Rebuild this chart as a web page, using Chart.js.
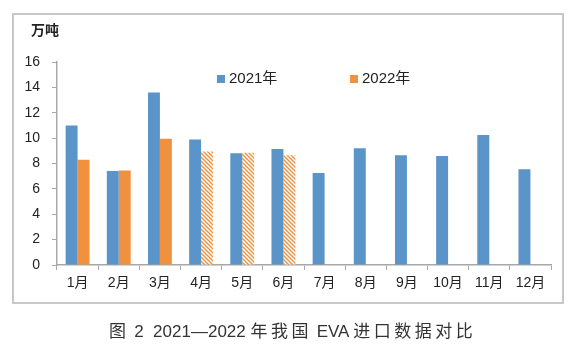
<!DOCTYPE html>
<html><head><meta charset="utf-8">
<script src="https://cdn.jsdelivr.net/npm/chart.js@4"></script>
<style>
html,body{margin:0;padding:0;background:#fff;}
#wrap{position:relative;width:585px;height:357px;font-family:"Liberation Sans","Noto Sans CJK SC",sans-serif;}
#box{position:absolute;left:12px;top:13px;width:548px;height:287px;border:2px solid #c8c8c8;}
canvas{position:absolute;left:0;top:0;}
.t{position:absolute;white-space:nowrap;color:#222;}
.sq{display:inline-block;width:8px;height:8px;margin-right:4px;vertical-align:0px;}
.cap{left:109px;top:319px;font-size:17px;line-height:22px;color:#333;font-family:'Liberation Sans','Noto Sans CJK SC';}
.cap .c{letter-spacing:3.5px;font-family:'Noto Sans CJK SC';}
</style></head>
<body><div id="wrap">
<div id="box"></div>
<canvas id="c" width="585" height="357"></canvas>
<div class="t" style="left:31px;top:19px;font-size:14px;font-weight:bold;font-family:'Noto Sans CJK SC';">万吨</div>
<div class="t" style="left:217px;top:66px;font-size:15px;"><span class="sq" style="background:#5a94c8"></span>2021年</div>
<div class="t" style="left:350px;top:66px;font-size:15px;"><span class="sq" style="background:#f0913f"></span>2022年</div>
<div class="t cap"><span class="c">图</span> 2&nbsp; 2021—2022 <span class="c">年我国</span> EVA <span class="c">进口数据对比</span></div>
</div>
<script>
const categories = ['1月','2月','3月','4月','5月','6月','7月','8月','9月','10月','11月','12月'];
const series2021 = [11.0, 7.4, 13.6, 9.9, 8.8, 9.15, 7.25, 9.2, 8.65, 8.6, 10.25, 7.55];
const series2022 = [8.3, 7.45, 9.95, 8.95, 8.85, 8.65, null, null, null, null, null, null];
const hatched2022 = [false, false, false, true, true, true, false, false, false, false, false, false];
const yTicks = [0,2,4,6,8,10,12,14,16];

const BLUE = '#5a94c8', ORANGE = '#f0913f';
function makeHatch(){
  const p = document.createElement('canvas');
  p.width = 4; p.height = 4;
  const g = p.getContext('2d');
  g.fillStyle = '#fff'; g.fillRect(0,0,4,4);
  g.strokeStyle = ORANGE; g.lineWidth = 1.4;
  g.beginPath();
  g.moveTo(-1,-1); g.lineTo(5,5);
  g.moveTo(-1,3); g.lineTo(1,5);
  g.moveTo(3,-1); g.lineTo(5,1);
  g.stroke();
  return document.getElementById('c').getContext('2d').createPattern(p,'repeat');
}
const hatch = makeHatch();

new Chart(document.getElementById('c'), {
  type: 'bar',
  data: {
    labels: categories,
    datasets: [
      {label:'2021年', data: series2021, backgroundColor: BLUE, categoryPercentage: 0.58, barPercentage: 1.0},
      {label:'2022年', data: series2022, backgroundColor: hatched2022.map(h => h ? hatch : ORANGE), categoryPercentage: 0.58, barPercentage: 1.0}
    ]
  },
  options: {
    responsive: false,
    animation: false,
    devicePixelRatio: 1,
    layout: {padding: {left: 12, top: 62, right: 34, bottom: 55}},
    plugins: {legend: {display: false}, tooltip: {enabled: false}},
    scales: {
      x: {
        afterFit: s => { s.height = 37; },
        grid: {display: true, drawOnChartArea: false, drawTicks: true, tickLength: 5, color: '#a8a8a8', offset: true},
        border: {display: true, color: '#a8a8a8', width: 1.5},
        ticks: {color: '#222', font: {size: 14, family: "'Liberation Sans','Noto Sans CJK SC'"}, padding: 5}
      },
      y: {
        min: 0, max: 16,
        afterFit: s => { s.width = 45; },
        afterBuildTicks: s => { s.ticks = yTicks.map(v => ({value: v})); },
        grid: {display: true, drawOnChartArea: false, drawTicks: true, tickLength: 5, color: '#a8a8a8'},
        border: {display: true, color: '#a8a8a8', width: 1.5},
        ticks: {color: '#222', font: {size: 14, family: "'Liberation Sans','Noto Sans CJK SC'"}, padding: 12}
      }
    }
  }
});
</script>
</body></html>
